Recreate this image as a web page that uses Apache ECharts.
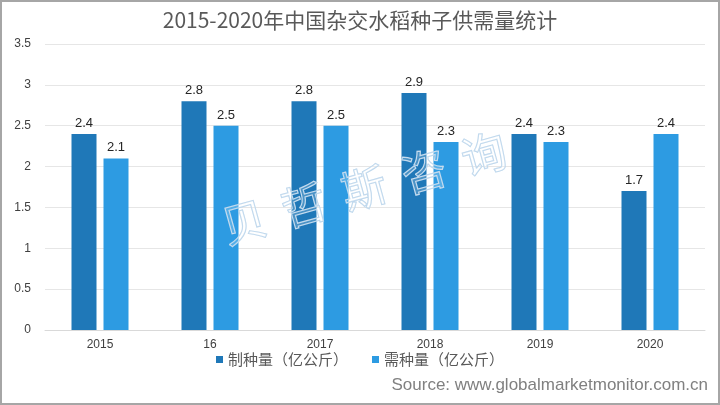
<!DOCTYPE html>
<html><head><meta charset="utf-8">
<script src="https://cdn.jsdelivr.net/npm/echarts@6/dist/echarts.min.js"></script>
<style>html,body{margin:0;padding:0;background:#fff}#c{width:720px;height:405px;box-sizing:border-box;border:2px solid #a6a6a6}</style>
</head><body><div id="c"></div>
<script>
const categories = ['2015','16','2017','2018','2019','2020'];
const supplyName = '制种量（亿公斤）';
const demandName = '需种量（亿公斤）';
const supply = [2.4, 2.8, 2.8, 2.9, 2.4, 1.7];
const demand = [2.1, 2.5, 2.5, 2.3, 2.3, 2.4];
const yTicks = [0, 0.5, 1, 1.5, 2, 2.5, 3, 3.5];
const watermarkChars = ['贝','哲','斯','咨','询'];

const chart = echarts.init(document.getElementById('c'));
const labelStyle = {show:true, position:'top', color:'#262626', fontSize:13, fontFamily:'Liberation Sans, Arial', distance:4};
const wm = watermarkChars.map((ch, i) => ({
  type:'text', x:242 + i*60, y:220 - i*17, rotation:0.27, z:100,
  style:{text:ch, fontSize:45, fill:'rgba(255,255,255,0.2)', stroke:'#bcd6ec', lineWidth:1.2,
    align:'center', verticalAlign:'middle', fontFamily:'Noto Sans CJK SC'}
}));
chart.setOption({
  animation:false,
  title:{text:'2015-2020年中国杂交水稻种子供需量统计', left:'center', top:3,
    textStyle:{fontSize:21, fontWeight:'normal', color:'#595959', fontFamily:'Noto Sans CJK SC'}},
  grid:{left:43, right:13, top:42, bottom:73},
  legend:{top:345, left:'center', itemWidth:7, itemHeight:7, itemGap:24, icon:'rect',
    textStyle:{fontSize:15, color:'#595959', fontFamily:'Noto Sans CJK SC'}},
  xAxis:{type:'category', data:categories,
    axisLine:{lineStyle:{color:'#d9d9d9'}}, axisTick:{show:false},
    axisLabel:{color:'#404040', fontSize:12, margin:9, fontFamily:'Liberation Sans, Arial'}},
  yAxis:{type:'value', min:0, max:3.5, interval:0.5,
    axisLabel:{color:'#404040', fontSize:12, margin:14, fontFamily:'Liberation Sans, Arial',
      formatter:v=>yTicks.includes(v)?String(v):''},
    splitLine:{lineStyle:{color:'#e6e6e6'}}},
  series:[
    {name:supplyName, type:'bar', data:supply, barWidth:25, barGap:'28%', itemStyle:{color:'#1f78b8'}, label:labelStyle},
    {name:demandName, type:'bar', data:demand, barWidth:25, itemStyle:{color:'#2d9be2'}, label:labelStyle}
  ],
  graphic:[
    {type:'text', right:10, bottom:9, style:{text:'Source: www.globalmarketmonitor.com.cn', fontSize:17, fill:'#808080', fontFamily:'Liberation Sans'}}
  ].concat(wm)
});
</script></body></html>
